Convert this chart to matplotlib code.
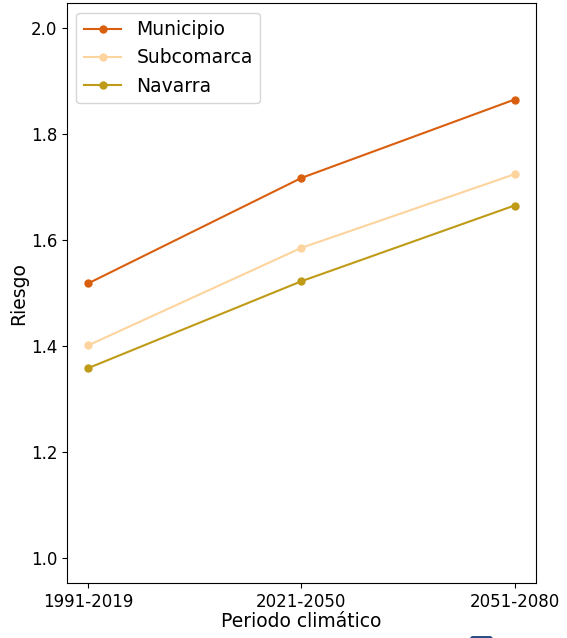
import matplotlib
matplotlib.use("Agg")
import matplotlib.pyplot as plt
from matplotlib.patches import FancyBboxPatch

periodos = ["1991-2019", "2021-2050", "2051-2080"]
municipio = [1.518, 1.717, 1.865]
subcomarca = [1.401, 1.585, 1.724]
navarra = [1.358, 1.522, 1.665]

fig = plt.figure(figsize=(5.67, 6.38), dpi=100)
ax = fig.add_axes([0.118, 0.086, 0.827, 0.909])

ax.plot(periodos, municipio, marker='o', markersize=5, color='#d95f0e', label='Municipio')
ax.plot(periodos, subcomarca, marker='o', markersize=5, color='#fdd49e', label='Subcomarca')
ax.plot(periodos, navarra, marker='o', markersize=5, color='#bf9b17', label='Navarra')

ax.set_ylim(0.952, 2.047)
ax.set_yticks([1.0, 1.2, 1.4, 1.6, 1.8, 2.0])
ax.tick_params(labelsize=12)
ax.set_xlabel("Periodo climático", fontsize=13.5, labelpad=1)
ax.set_ylabel("Riesgo", fontsize=13.5, labelpad=2)
ax.legend(loc='upper left', fontsize=13.5)

# small blue mark cut at bottom edge
fig.patches.append(FancyBboxPatch((0.830, -0.01), 0.038, 0.012, boxstyle="round,pad=0,rounding_size=0.004",
                                  transform=fig.transFigure, color='#2b4c82'))

fig.savefig("out.png", dpi=100)
plt.close(fig)
